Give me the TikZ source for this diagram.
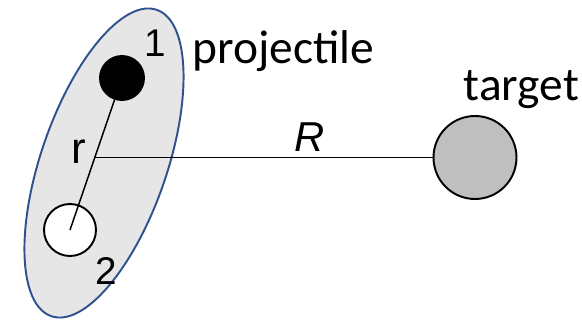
\documentclass[tikz,border=0pt]{standalone}
\usepackage{fontspec}
\setmainfont{Carlito}
\newfontfamily\arialfont{Liberation Sans}
\usetikzlibrary{positioning}
\definecolor{edge}{HTML}{2F528F}
\definecolor{cloud}{HTML}{E7E6E6}
\definecolor{stone}{HTML}{BFBFBF}

\begin{document}
\begin{tikzpicture}[x=0.02cm,y=-0.02cm,line width=0.85pt,ball/.style={circle,draw,line width=1.1pt,inner sep=0pt},word/.style={inner sep=0pt,anchor=base west,font=\fontsize{27}{31}\selectfont},tag/.style={inner sep=0pt,anchor=base,font=\arialfont\fontsize{22}{26}\selectfont}]
 \useasboundingbox (0,0) rectangle (582,321);
 \draw[draw=edge,fill=cloud,line width=1.1pt,rotate around={71:(104,163)}] (104,163) ellipse [x radius=162,y radius=63];
 \node[ball,fill=white,minimum size=1.04cm] (p2) at (70,230) {};
 \node[ball,fill=black,minimum size=0.88cm] (p1) at (122,78) {};
 \node[ball,fill=stone,minimum size=1.66cm] (target) at (475,157.5) {};
 \coordinate (cm) at (94.5,157.5);
 \draw (p1) -- (p2.center);
 \draw (cm) -- (target);
 \node[tag] (n1) at (155.5,56) {1};
 \node[tag] (n2) at (106,284) {2};
 \node[tag,font=\arialfont\fontsize{25}{29}\selectfont] (rlab) at (78.5,163) {r};
 \node[tag,font=\arialfont\itshape\fontsize{23.8}{28}\selectfont] (Rlab) at (310,151) {R};
 \node[word] (projlab) at (192,63) {projectile};
 \node[word] (targlab) at (463,100) {target};
\end{tikzpicture}
\end{document}
